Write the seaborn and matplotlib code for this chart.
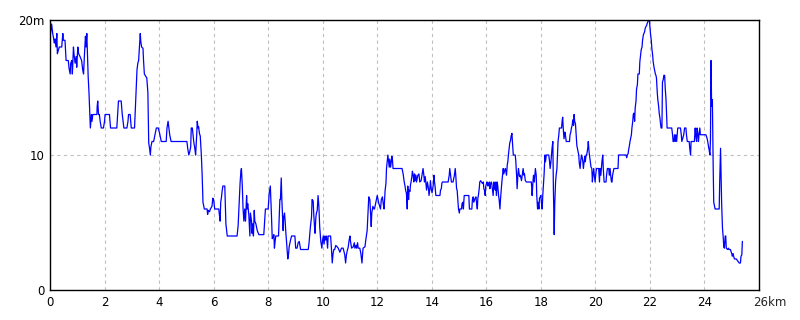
import matplotlib
matplotlib.use("Agg")
import matplotlib.pyplot as plt
import seaborn as sns
import pandas as pd

# elevation profile: (distance km, elevation m)
seg_a = [(0.00,20.0),(0.02,19.0),(0.06,19.7),(0.10,19.0),(0.16,18.3),(0.18,18.6),(0.22,18.0),(0.25,19.0),
         (0.27,17.5),(0.31,17.8),(0.34,18.0),(0.43,18.0),(0.47,19.0),(0.49,18.5),(0.55,18.5),(0.59,17.0),
         (0.67,17.0),(0.70,16.4),(0.74,16.0),(0.76,16.8),(0.80,17.0),(0.82,16.0),(0.86,18.0),(0.88,17.5),
         (0.92,16.8),(0.96,17.3),(0.98,16.5),(1.02,18.0),(1.05,17.5),(1.10,17.3),(1.16,17.0),(1.20,16.3),
         (1.23,16.0),(1.26,17.3),(1.30,18.8),(1.32,18.0),(1.35,19.0),(1.37,17.8),(1.40,15.8),(1.43,14.6),
         (1.46,13.0),(1.48,12.0),(1.52,13.0),(1.54,12.5),(1.57,13.0),(1.72,13.0),(1.73,13.6),(1.75,14.0),
         (1.78,13.0),(1.81,13.0),(1.84,12.5),(1.88,12.0),(1.96,12.0),(2.00,12.5),(2.02,13.0),(2.18,13.0),
         (2.22,12.0),(2.45,12.0),(2.48,13.0),(2.51,14.0),(2.61,14.0),(2.65,13.0),(2.68,12.5),(2.71,12.0),
         (2.82,12.0),(2.86,12.5),(2.88,13.0),(2.94,13.0),(2.98,12.0),(3.10,12.0),(3.12,13.0),(3.15,14.6),
         (3.19,16.3),(3.22,16.8),(3.25,17.0),(3.28,18.0),(3.31,19.0),(3.33,18.4),(3.36,18.0),(3.41,17.9),
         (3.43,17.0),(3.46,16.0),(3.49,15.9),(3.52,15.8),(3.55,15.7),(3.59,14.6),(3.62,10.9),(3.65,10.5),
         (3.68,10.0),(3.70,10.6),(3.74,11.0),(3.80,11.0),(3.82,11.2),(3.86,11.6),(3.90,12.0),(3.97,12.0),
         (4.02,11.6),(4.08,11.0),(4.26,11.0),(4.29,12.0),(4.33,12.5),(4.36,12.0),(4.39,11.5),(4.44,11.0),
         (5.02,11.0),(5.05,10.5),(5.09,10.0),(5.12,10.2),(5.16,10.6),(5.18,12.0),(5.22,12.0),(5.25,11.4),
         (5.27,11.0),(5.31,10.5),(5.34,10.0),(5.38,11.5),(5.40,12.5),(5.43,12.0),(5.45,12.1),(5.48,11.6),
         (5.51,11.4),(5.55,10.0),(5.58,8.5),(5.61,6.5),(5.66,6.0),(5.76,6.0),(5.78,5.6),(5.81,5.9),
         (5.85,5.8),(5.88,6.0),(5.94,6.2),(5.97,6.8),(6.00,6.7),(6.04,6.0),(6.19,6.0),(6.21,5.6),
         (6.24,5.1),(6.26,6.5),(6.29,6.9),(6.31,7.3),(6.34,7.7),(6.41,7.7),(6.45,4.9),(6.50,4.0),
         (6.86,4.0),(6.90,4.8),(6.94,6.5),(6.97,7.9),(7.00,8.8),(7.02,9.0),(7.05,7.8),(7.08,6.0),
         (7.11,5.1),(7.14,6.0),(7.17,5.1),(7.21,7.0),(7.23,6.0),(7.25,6.4),(7.29,5.6),(7.33,4.0),
         (7.35,5.7),(7.39,5.1),(7.41,4.2),(7.44,4.9),(7.46,4.0),(7.49,5.9),(7.51,5.1),(7.55,4.9),
         (7.60,4.4),(7.66,4.1),(7.84,4.1),(7.87,5.1),(7.90,6.0),(8.00,6.0),(8.04,7.2),(8.08,7.7)]

seg_b = [(8.12,5.6),(8.15,3.8),(8.18,3.9),(8.21,4.1),(8.23,3.1),(8.26,3.7),(8.28,4.0),(8.38,4.0),
         (8.43,6.7),(8.45,6.7),(8.48,8.3),(8.50,6.8),(8.53,5.4),(8.55,4.4),(8.57,5.4),(8.60,5.7),
         (8.62,5.2),(8.65,4.2),(8.67,3.7),(8.70,2.8),(8.72,2.3),(8.75,2.7),(8.77,3.2),(8.82,3.7),
         (8.86,4.0),(8.98,4.0),(9.01,3.1),(9.06,3.1),(9.10,3.5),(9.14,3.6),(9.19,3.0),(9.47,3.0),
         (9.50,3.5),(9.55,4.7),(9.59,5.4),(9.61,6.7),(9.65,6.6),(9.67,5.7),(9.70,4.7),(9.72,4.2),
         (9.75,5.4),(9.77,5.7),(9.80,5.9),(9.83,7.0),(9.86,6.2),(9.89,4.7),(9.93,3.6),(9.97,3.1),
         (9.99,3.6),(10.02,4.0),(10.05,3.4),(10.08,4.0),(10.11,3.7),(10.14,4.0),(10.18,3.1),(10.20,4.0),
         (10.29,4.0),(10.32,3.1),(10.35,2.0),(10.38,2.7),(10.41,3.0),(10.44,3.0),(10.48,3.3),(10.53,3.2),
         (10.57,3.1),(10.63,2.8),(10.69,3.1),(10.75,3.1),(10.81,2.6),(10.84,2.0),(10.87,2.6),(10.91,3.0),
         (10.93,3.1),(10.97,3.7),(11.00,4.0),(11.02,3.6),(11.06,3.1),(11.12,3.2),(11.16,3.5),(11.18,3.1),
         (11.22,3.3),(11.24,3.1),(11.28,3.5),(11.30,3.1),(11.36,3.1),(11.40,2.7),(11.44,2.0),(11.46,2.6),
         (11.48,3.1),(11.55,3.2),(11.58,3.7),(11.63,4.4),(11.66,5.7),(11.69,6.9),(11.73,6.7),(11.75,5.9),
         (11.78,4.7),(11.80,5.7),(11.84,6.2),(11.88,6.0),(11.90,6.0),(11.94,6.4),(11.97,6.7),(12.00,7.0),
         (12.03,6.7),(12.06,6.4),(12.09,6.2),(12.12,6.0),(12.15,6.7),(12.19,6.9),(12.22,6.4),(12.25,6.0),
         (12.29,7.4),(12.32,7.9),(12.34,9.0),(12.37,9.6),(12.39,10.0),(12.42,9.5),(12.44,9.1),(12.46,9.7),
         (12.49,9.1),(12.51,9.4),(12.54,9.9),(12.56,9.6),(12.58,9.0),(12.91,9.0),(12.95,8.6),(12.99,8.0),
         (13.01,7.8),(13.05,7.3),(13.07,7.2),(13.10,6.0),(13.12,7.7),(13.15,6.7),(13.17,7.4),(13.20,7.3),
         (13.22,7.8),(13.24,8.0),(13.27,8.4),(13.29,8.8),(13.32,8.5),(13.34,8.0),(13.37,8.6),(13.39,8.1),
         (13.42,8.5),(13.44,8.0),(13.49,8.5),(13.53,8.6),(13.56,8.0),(13.61,8.1),(13.65,8.6),(13.68,9.0),
         (13.71,8.5),(13.73,8.0),(13.76,8.4),(13.78,8.0),(13.81,7.4),(13.84,8.0),(13.88,7.5),(13.90,7.0),
         (13.93,7.5),(13.95,8.1),(13.98,7.5),(14.01,7.2),(14.05,7.7),(14.08,8.5),(14.10,8.0),(14.12,7.7),
         (14.15,7.0),(14.30,7.0),(14.32,7.4),(14.35,7.5),(14.37,7.9),(14.39,8.0),(14.60,8.0),(14.64,8.5),
         (14.66,9.0),(14.69,8.5),(14.72,8.0),(14.78,8.0),(14.83,8.5),(14.86,9.0),(14.88,8.5),(14.91,7.5),
         (14.93,7.4),(14.96,6.5),(14.98,6.0),(15.01,5.7),(15.03,6.0),(15.09,6.0),(15.11,6.4),(15.14,6.5),
         (15.16,6.0),(15.19,7.0),(15.36,7.0),(15.38,6.0),(15.47,6.0),(15.49,6.7),(15.52,6.9),(15.54,6.5),
         (15.59,6.8),(15.62,6.9),(15.64,6.5),(15.67,6.0),(15.69,6.8),(15.71,7.0),(15.74,7.5),(15.76,8.0),
         (15.79,8.1),(15.82,8.0),(15.86,7.9),(15.89,8.0),(15.91,7.5),(15.93,7.4),(15.96,7.0),(15.98,7.7),
         (16.01,7.9),(16.03,8.0),(16.06,7.7),(16.08,7.8),(16.11,8.0),(16.13,7.5),(16.15,7.8),(16.18,8.0),
         (16.20,7.9),(16.23,7.4),(16.25,7.0),(16.28,8.0),(16.30,7.7),(16.33,7.4),(16.35,8.0),(16.37,7.0),
         (16.40,8.0),(16.42,7.7),(16.45,7.0),(16.47,6.7),(16.50,6.0),(16.52,6.7),(16.55,7.5),(16.57,8.0),
         (16.59,8.4),(16.62,9.0),(16.64,8.6),(16.68,8.9),(16.70,9.0),(16.74,8.5),(16.77,9.3),(16.79,9.5),
         (16.81,10.0),(16.84,10.5),(16.86,10.9),(16.89,11.1),(16.91,11.4),(16.94,11.6),(16.96,10.9),(16.99,10.0),
         (17.06,10.0),(17.08,9.6),(17.11,8.5),(17.13,7.5),(17.16,8.6),(17.18,9.0),(17.21,8.5),(17.23,8.4),
         (17.25,8.5),(17.29,8.1),(17.35,9.0),(17.38,8.5),(17.40,8.6),(17.43,8.1),(17.47,8.0),(17.60,8.0)]

seg_c = [(17.65,8.0),(17.67,7.5),(17.68,7.0),(17.71,8.0),(17.73,8.5),(17.76,8.0),(17.78,8.5),(17.80,9.0),
         (17.83,8.5),(17.85,7.0),(17.88,6.0),(17.90,6.5),(17.93,6.0),(17.95,6.8),(17.98,6.9),(18.00,7.0),
         (18.02,6.5),(18.05,6.0),(18.07,7.0),(18.10,8.0),(18.12,8.6),(18.15,10.0),(18.17,9.5),(18.20,10.0),
         (18.29,10.0),(18.32,9.5),(18.34,9.0),(18.37,9.5),(18.39,10.0),(18.41,10.5),(18.44,11.0),(18.46,7.5),
         (18.49,4.1),(18.51,6.4),(18.54,8.0),(18.56,8.5),(18.59,9.0),(18.61,10.0),(18.63,11.0),(18.66,11.5),
         (18.68,12.0),(18.76,12.0),(18.78,12.5),(18.80,12.8),(18.83,11.7),(18.85,11.2),(18.88,11.7),(18.90,11.5),
         (18.93,11.0),(19.05,11.0),(19.07,11.5),(19.10,11.7),(19.12,12.0),(19.15,12.2),(19.17,12.6),(19.20,12.2),
         (19.22,13.0),(19.24,12.5),(19.27,12.3),(19.29,11.7),(19.32,10.7),(19.34,10.5),(19.37,10.2),(19.39,10.0),
         (19.41,9.4),(19.44,9.0),(19.46,9.5),(19.49,10.0),(19.51,9.9),(19.54,9.5),(19.56,9.0),(19.59,9.5),
         (19.61,9.9),(19.63,9.5),(19.66,10.0),(19.68,10.0),(19.72,10.5),(19.74,11.0),(19.77,10.2),(19.79,9.9),
         (19.82,9.5),(19.84,9.1),(19.87,9.0),(19.89,8.0),(19.91,8.5),(19.94,9.0),(19.96,8.5),(19.99,8.0),
         (20.01,8.5),(20.04,9.0),(20.12,9.0),(20.15,8.0),(20.17,9.0),(20.20,8.5),(20.22,9.0),(20.24,9.5),
         (20.27,10.0),(20.29,9.0),(20.32,8.0),(20.39,8.0),(20.41,8.5),(20.44,9.0),(20.49,9.0),(20.51,8.5),
         (20.54,9.0),(20.56,8.5),(20.59,8.0),(20.61,8.0),(20.63,8.5),(20.68,9.0),(20.83,9.0),(20.85,10.0),
         (21.12,10.0),(21.15,9.8),(21.17,10.0),(21.20,10.1),(21.22,10.4),(21.24,10.6),(21.27,11.0),(21.32,11.5),
         (21.34,12.0),(21.37,12.5),(21.39,13.0),(21.41,13.1),(21.44,12.5),(21.46,13.5),(21.49,14.0),(21.51,14.9),
         (21.54,15.2),(21.56,16.0),(21.61,16.0),(21.63,16.9),(21.66,17.4),(21.68,17.8),(21.71,18.0),(21.73,18.5),
         (21.76,18.9),(21.78,19.0),(21.80,19.1),(21.83,19.4),(21.85,19.5),(21.88,19.6),(21.90,19.75),(21.93,19.9),
         (21.95,19.95),(21.98,20.0),(22.00,19.5),(22.02,19.0),(22.05,18.5),(22.07,17.9),(22.10,17.4),(22.12,16.9),
         (22.15,16.5),(22.17,16.3),(22.20,16.0),(22.22,15.9),(22.24,15.7),(22.27,14.6),(22.29,14.1),(22.32,13.6),
         (22.34,13.1),(22.37,12.7),(22.39,12.3),(22.41,12.0),(22.44,12.0),(22.46,15.4),(22.49,15.6),(22.51,15.9),
         (22.54,15.9),(22.56,15.0),(22.59,14.1),(22.61,13.0),(22.63,12.0),(22.80,12.0),(22.83,11.5),(22.85,11.0),
         (22.88,11.0),(22.90,11.5),(22.93,11.0),(22.95,11.5),(22.98,11.0),(23.00,11.5),(23.02,12.0),(23.12,12.0),
         (23.15,11.5),(23.17,11.0),(23.24,11.5),(23.27,12.0),(23.32,12.0),(23.34,11.5),(23.37,11.0),(23.44,11.0),
         (23.46,10.5),(23.49,10.0),(23.51,11.0),(23.63,11.0),(23.66,12.0),(23.68,11.5),(23.71,11.0),(23.73,12.0),
         (23.76,11.5),(23.78,11.0),(23.80,11.5),(23.83,12.0),(23.85,11.5),(24.05,11.5),(24.07,11.4),(24.10,11.2),
         (24.12,11.0),(24.15,10.6),(24.17,10.4),(24.20,10.0),(24.22,11.1),(24.23,13.6),(24.24,17.0),(24.26,14.1),
         (24.28,13.6),(24.29,14.1),(24.32,9.1),(24.34,6.5),(24.37,6.2),(24.39,6.0),(24.54,6.0),(24.56,8.1),
         (24.59,10.5),(24.61,8.6),(24.63,6.4),(24.66,4.6),(24.68,4.1),(24.71,3.2),(24.73,3.1),(24.76,4.0),
         (24.78,4.0),(24.80,3.1),(24.85,3.0),(24.88,3.1),(24.90,3.0),(24.95,3.0),(25.00,2.7),(25.02,2.5),
         (25.05,2.7),(25.07,2.5),(25.10,2.3),(25.17,2.3),(25.20,2.2),(25.24,2.1),(25.27,2.0),(25.32,2.0),
         (25.34,2.5),(25.37,2.6),(25.39,3.6)]

x_ticks = [0, 2, 4, 6, 8, 10, 12, 14, 16, 18, 20, 22, 24]
x_tick_labels = ["0", "2", "4", "6", "8", "10", "12", "14", "16", "18", "20", "22", "24"]
x_end_label = "26km"
y_ticks = [0, 10, 20]
y_tick_labels = ["0", "10", "20m"]

sns.set_style("white")
plt.rcParams['font.family'] = ['DejaVu Sans']

fig = plt.figure(figsize=(8, 3.2), dpi=100)
ax = fig.add_axes([50/800, 30/320, 709/800, 270/320])

df = pd.DataFrame(seg_a + seg_b + seg_c, columns=["km", "m"])
sns.lineplot(data=df, x="km", y="m", estimator=None, sort=False,
             color="#0000ff", linewidth=0.9, ax=ax)

ax.set_xlim(0, 26)
ax.set_ylim(0, 20)
ax.set_xticks(x_ticks)
ax.set_xticklabels(x_tick_labels)
ax.set_yticks(y_ticks)
ax.set_yticklabels(y_tick_labels)
ax.tick_params(length=0, pad=4, labelsize=8.5, colors="black")
ax.set_xlabel("")
ax.set_ylabel("")
ax.set_axisbelow(True)
ax.grid(True, color="#c0c0c0", linestyle=(0, (3, 3)), linewidth=0.8)
for s in ax.spines.values():
    s.set_color("black")
    s.set_linewidth(1.0)

ax.annotate(x_end_label, xy=(26, 0), xycoords=("data", "axes fraction"),
            xytext=(-4.5, -4), textcoords="offset points",
            ha="left", va="top", fontsize=8.5)

fig.savefig("out.png", dpi=100)
